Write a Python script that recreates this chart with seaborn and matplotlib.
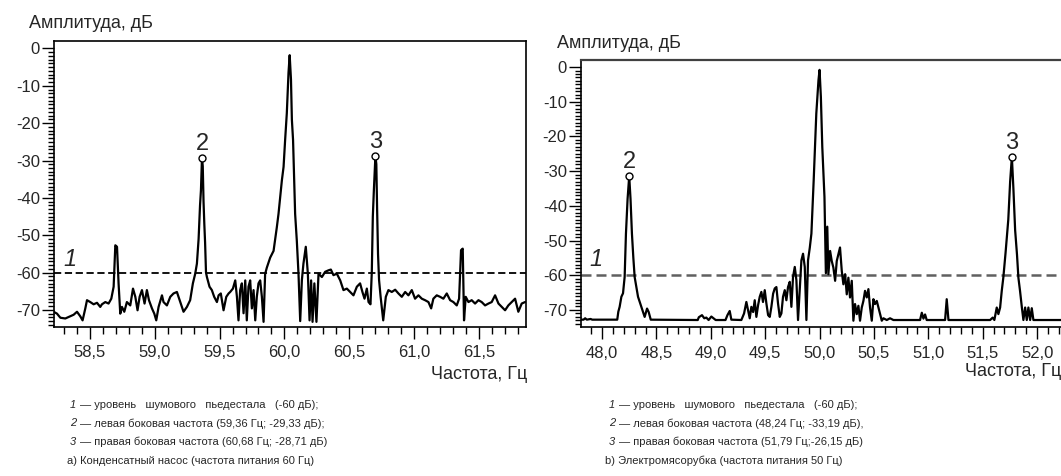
import matplotlib
matplotlib.use("Agg")
import matplotlib.pyplot as plt
import seaborn as sns
import pandas as pd
from matplotlib import font_manager

# ---------------- data ----------------
# panel a) condensate pump, supply 60 Hz
freq_a = [58.212, 58.223, 58.249, 58.275, 58.313, 58.352, 58.377, 58.403, 58.428, 58.446,
          58.467, 58.480, 58.505, 58.531, 58.557, 58.582, 58.595, 58.621, 58.646, 58.667,
          58.685, 58.698, 58.711, 58.723, 58.736, 58.749, 58.767, 58.787, 58.813, 58.834,
          58.852, 58.869, 58.885, 58.903, 58.923, 58.941, 58.957, 58.980, 58.998, 59.013,
          59.031, 59.057, 59.069, 59.095, 59.121, 59.146, 59.172, 59.198, 59.223, 59.249,
          59.274, 59.295, 59.313, 59.326, 59.339, 59.350, 59.357, 59.365, 59.371, 59.377,
          59.383, 59.389, 59.396, 59.403, 59.423, 59.441, 59.459, 59.480, 59.493, 59.510,
          59.531, 59.552, 59.570, 59.582, 59.603, 59.621, 59.634, 59.646, 59.659, 59.672,
          59.685, 59.698, 59.710, 59.723, 59.736, 59.749, 59.762, 59.775, 59.787, 59.800,
          59.813, 59.826, 59.839, 59.851, 59.864, 59.890, 59.916, 59.941, 59.954, 59.967,
          59.980, 59.993, 60.005, 60.018, 60.031, 60.040, 60.050, 60.057, 60.066, 60.075,
          60.082, 60.095, 60.108, 60.121, 60.134, 60.146, 60.164, 60.180, 60.193, 60.205,
          60.216, 60.230, 60.246, 60.262, 60.288, 60.313, 60.339, 60.357, 60.377, 60.403,
          60.429, 60.454, 60.480, 60.505, 60.531, 60.557, 60.582, 60.600, 60.616, 60.634,
          60.647, 60.662, 60.672, 60.680, 60.688, 60.700, 60.707, 60.713, 60.720, 60.728,
          60.740, 60.760, 60.780, 60.800, 60.826, 60.852, 60.877, 60.903, 60.929, 60.954,
          60.980, 61.005, 61.031, 61.057, 61.082, 61.108, 61.129, 61.146, 61.172, 61.198,
          61.223, 61.249, 61.275, 61.300, 61.326, 61.344, 61.359, 61.372, 61.382, 61.395,
          61.416, 61.441, 61.467, 61.493, 61.518, 61.544, 61.570, 61.595, 61.621, 61.647,
          61.672, 61.698, 61.723, 61.749, 61.775, 61.800, 61.826, 61.852]
amp_a = [-71.0, -70.5, -71.0, -72.1, -72.3, -71.7, -71.3, -70.5, -71.7, -72.8,
         -69.6, -67.4, -67.9, -68.5, -68.1, -69.2, -68.5, -67.9, -68.3, -67.0,
         -63.8, -52.7, -53.1, -62.9, -71.0, -69.2, -70.5, -67.9, -68.8, -64.3,
         -66.5, -70.1, -66.5, -64.7, -68.3, -64.7, -67.4, -69.6, -71.0, -72.8,
         -69.2, -66.1, -67.9, -68.8, -66.5, -65.6, -65.2, -67.9, -70.5, -69.2,
         -67.4, -62.9, -60.3, -57.6, -51.0, -42.0, -38.0, -29.3, -31.5, -41.0,
         -47.0, -52.0, -60.0, -61.2, -63.8, -64.7, -66.5, -67.9, -66.1, -65.6,
         -70.1, -66.5, -65.6, -65.2, -64.3, -62.1, -66.5, -72.8, -64.7, -62.9,
         -70.9, -62.1, -72.8, -63.8, -62.1, -69.6, -64.7, -72.8, -66.5, -62.9,
         -62.1, -66.5, -73.2, -60.4, -58.7, -56.0, -54.2, -47.9, -44.3, -39.8,
         -35.3, -31.7, -24.5, -17.3, -6.5, -1.8, -8.3, -19.1, -24.5, -35.3,
         -44.3, -51.5, -60.4, -73.0, -62.0, -57.6, -53.1, -60.3, -72.8, -62.1,
         -73.2, -62.9, -73.2, -60.3, -61.2, -59.8, -59.4, -59.2, -60.7, -60.3,
         -62.1, -64.7, -64.3, -65.2, -66.1, -63.8, -62.9, -65.2, -67.0, -64.3,
         -67.9, -68.5, -60.0, -45.0, -38.0, -28.7, -31.0, -43.0, -55.0, -62.0,
         -66.5, -72.8, -66.5, -64.7, -65.2, -64.6, -65.6, -66.5, -65.2, -66.1,
         -64.7, -67.0, -66.1, -67.0, -67.4, -67.9, -69.6, -67.0, -66.1, -66.5,
         -67.0, -65.6, -67.4, -67.9, -68.8, -67.0, -54.0, -53.6, -72.8, -66.5,
         -67.9, -67.4, -68.3, -67.4, -67.9, -68.8, -68.3, -67.9, -66.1, -68.3,
         -69.2, -70.1, -68.8, -67.9, -67.0, -70.5, -68.3, -67.9]

# panel b) meat grinder, supply 50 Hz
freq_b = [47.800, 47.830, 47.845, 47.860, 47.895, 47.910, 48.000, 48.140, 48.150, 48.162,
          48.178, 48.193, 48.208, 48.220, 48.235, 48.250, 48.262, 48.275, 48.288, 48.300,
          48.316, 48.331, 48.362, 48.392, 48.414, 48.429, 48.448, 48.880, 48.890, 48.919,
          48.940, 48.959, 48.980, 49.005, 49.025, 49.045, 49.135, 49.153, 49.174, 49.189,
          49.281, 49.306, 49.327, 49.343, 49.358, 49.373, 49.389, 49.404, 49.419, 49.435,
          49.450, 49.465, 49.480, 49.496, 49.511, 49.527, 49.542, 49.557, 49.573, 49.588,
          49.603, 49.618, 49.634, 49.649, 49.664, 49.680, 49.695, 49.710, 49.726, 49.741,
          49.756, 49.772, 49.787, 49.802, 49.818, 49.833, 49.848, 49.864, 49.879, 49.894,
          49.910, 49.925, 49.946, 49.970, 49.990, 50.000, 50.012, 50.025, 50.045, 50.058,
          50.071, 50.081, 50.097, 50.112, 50.127, 50.143, 50.158, 50.173, 50.188, 50.204,
          50.219, 50.235, 50.250, 50.265, 50.280, 50.296, 50.311, 50.326, 50.342, 50.357,
          50.372, 50.388, 50.403, 50.418, 50.434, 50.449, 50.464, 50.480, 50.495, 50.510,
          50.526, 50.541, 50.556, 50.572, 50.587, 50.618, 50.648, 50.679, 50.924, 50.940,
          50.955, 50.970, 50.985, 51.154, 51.169, 51.185, 51.568, 51.592, 51.607, 51.629,
          51.644, 51.660, 51.675, 51.690, 51.710, 51.735, 51.752, 51.768, 51.782, 51.798,
          51.815, 51.828, 51.843, 51.860, 51.874, 51.890, 51.905, 51.920, 51.936, 51.951,
          51.966, 52.250]
amp_b = [-72.8, -72.8, -72.4, -72.8, -72.6, -72.8, -72.8, -72.8, -70.5, -69.1,
         -66.2, -65.2, -60.5, -48.0, -38.0, -31.4, -38.0, -48.0, -55.0, -60.5,
         -63.4, -66.2, -69.1, -72.0, -69.6, -70.6, -72.8, -72.9, -72.1, -71.5,
         -72.4, -72.2, -72.9, -71.9, -72.4, -72.9, -72.9, -71.5, -70.3, -72.8,
         -72.9, -71.0, -67.7, -70.1, -72.4, -69.1, -70.6, -67.2, -72.0, -68.6,
         -66.2, -64.8, -67.7, -64.3, -68.1, -71.5, -72.0, -69.1, -65.3, -63.8,
         -63.4, -68.1, -72.0, -71.0, -66.2, -64.3, -67.2, -63.4, -61.9, -69.1,
         -60.5, -57.6, -61.4, -72.9, -64.3, -55.7, -53.8, -57.6, -72.9, -55.7,
         -52.1, -48.0, -32.6, -13.4, -3.8, -0.8, -8.6, -23.0, -37.4, -59.4,
         -46.0, -59.7, -53.0, -55.9, -57.8, -61.6, -55.9, -54.0, -52.0, -58.7,
         -62.6, -59.7, -65.5, -60.7, -66.4, -61.6, -73.1, -68.3, -71.2, -68.8,
         -73.1, -69.3, -67.4, -64.5, -66.4, -64.0, -69.3, -73.1, -66.9, -68.3,
         -67.4, -69.3, -71.2, -73.1, -72.4, -72.9, -72.4, -72.9, -72.9, -70.8,
         -72.5, -71.3, -72.9, -72.9, -66.9, -72.9, -72.9, -72.2, -72.9, -69.3,
         -71.2, -69.3, -64.5, -60.5, -53.5, -44.0, -33.0, -25.9, -35.0, -47.0,
         -54.0, -60.7, -64.5, -69.3, -72.9, -69.3, -72.9, -69.3, -72.9, -69.5,
         -72.9, -72.9]

# marked side-band peaks
peaks_a_freq = [59.365, 60.700]
peaks_a_amp = [-29.3, -28.7]
peaks_b_freq = [48.250, 51.768]
peaks_b_amp = [-31.4, -25.9]
peak_labels = ["2", "3"]
noise_level = -60

yticks = [0, -10, -20, -30, -40, -50, -60, -70]
yticklabels = ["0", "-10", "-20", "-30", "-40", "-50", "-60", "-70"]
xticks_a = [58.5, 59.0, 59.5, 60.0, 60.5, 61.0, 61.5]
xticklabels_a = ["58,5", "59,0", "59,5", "60,0", "60,5", "61,0", "61,5"]
xticks_b = [48.0, 48.5, 49.0, 49.5, 50.0, 50.5, 51.0, 51.5, 52.0]
xticklabels_b = ["48,0", "48,5", "49,0", "49,5", "50,0", "50,5", "51,0", "51,5", "52,0"]

notes_a = ["уровень   шумового   пьедестала   (-60 дБ);",
           "левая боковая частота (59,36 Гц; -29,33 дБ);",
           "правая боковая частота (60,68 Гц; -28,71 дБ)"]
caption_a = "а) Конденсатный насос (частота питания 60 Гц)"
notes_b = ["уровень   шумового   пьедестала   (-60 дБ);",
           "левая боковая частота (48,24 Гц; -33,19 дБ),",
           "правая боковая частота (51,79 Гц;-26,15 дБ)"]
caption_b = "b) Электромясорубка (частота питания 50 Гц)"
note_numbers = ["1", "2", "3"]

# ---------------- style ----------------
sns.set_style("ticks")
plt.rcParams["font.family"] = ["Liberation Sans", "DejaVu Sans"]
plt.rcParams["axes.unicode_minus"] = False

installed = {f.name for f in font_manager.fontManager.ttflist}
if "Liberation Sans Narrow" in installed:
    note_family = ["Liberation Sans Narrow", "DejaVu Sans"]
    note_size = 9.5
else:
    note_family = ["Liberation Sans", "DejaVu Sans"]
    note_size = 8.0

W, H = 1061, 476
fig = plt.figure(figsize=(W / 100, H / 100), dpi=100)

def px_box(x0, x1, ytop, ybot):
    return [x0 / W, 1 - ybot / H, (x1 - x0) / W, (ybot - ytop) / H]

ax_a = fig.add_axes(px_box(54, 526, 41, 326.7))
ax_b = fig.add_axes(px_box(580.7, 1064.3, 59.8, 327.3))

df_a = pd.DataFrame({"freq": freq_a, "amp": amp_a})
df_b = pd.DataFrame({"freq": freq_b, "amp": amp_b})

panels = [
    (ax_a, df_a, (58.226, 61.859), (-74.5, 2.0), xticks_a, xticklabels_a,
     peaks_a_freq, peaks_a_amp, (58.352, -56.6), "black", 1.3),
    (ax_b, df_b, (47.804, 52.25), (-75.0, 2.1), xticks_b, xticklabels_b,
     peaks_b_freq, peaks_b_amp, (47.944, -55.6), "#606060", 1.8),
]

for (ax, df, xlim, ylim, xt, xtl, pf, pa, one_pos, dcol, dlw) in panels:
    sns.lineplot(data=df, x="freq", y="amp", ax=ax, color="black", lw=1.6,
                 estimator=None, sort=False)
    ax.axhline(noise_level, color=dcol, lw=dlw, ls=(0, (4, 2)), zorder=1)
    ax.plot(pf, pa, "o", ms=5, mfc="white", mec="black", mew=1.0, zorder=5)
    for f, a, lab in zip(pf, pa, peak_labels):
        ax.annotate(lab, (f, a), xytext=(0, 5.5), textcoords="offset points",
                    ha="center", va="baseline", fontsize=17)
    ax.text(one_pos[0], one_pos[1], note_numbers[0], fontsize=17, style="italic",
            ha="center", va="center")
    ax.set_xlim(*xlim)
    ax.set_ylim(*ylim)
    ax.set_xticks(xt)
    ax.set_xticklabels(xtl)
    ax.set_xticks([v / 10 for v in range(int(xlim[0] * 10) + 1, int(xlim[1] * 10) + 1)
                   if v % 5 != 0], minor=True)
    ax.set_yticks(yticks)
    ax.set_yticklabels(yticklabels)
    ax.set_yticks([v for v in range(-74, 0) if v % 10 != 0], minor=True)
    ax.tick_params(axis="x", which="major", direction="out", length=8.5, width=1.0,
                   labelsize=12, pad=5, color="black")
    ax.tick_params(axis="x", which="minor", direction="out", length=5, width=1.0,
                   color="black")
    ax.tick_params(axis="y", which="major", direction="out", length=9, width=1.0,
                   labelsize=12, pad=1, color="black")
    ax.tick_params(axis="y", which="minor", direction="out", length=4, width=1.0,
                   color="black")
    ax.set_xlabel("Частота, Гц", fontsize=13)
    ax.set_ylabel("Амплитуда, дБ", fontsize=13, rotation=0, ha="left", va="center")
    for s in ax.spines.values():
        s.set_color("black")
        s.set_linewidth(1.2)
    ax.set_facecolor("white")

ax_a.xaxis.set_label_coords(1.002, -0.168)
ax_a.xaxis.label.set_ha("right")
ax_a.xaxis.label.set_va("center")
ax_a.yaxis.set_label_coords(-0.053, 1.063)
ax_b.xaxis.set_label_coords(0.993, -0.166)
ax_b.xaxis.label.set_ha("right")
ax_b.xaxis.label.set_va("center")
ax_b.yaxis.set_label_coords(-0.049, 1.061)
ax_b.spines["top"].set_color("#404040")
ax_b.spines["top"].set_linewidth(1.6)

# notes below each panel
line_y = [405, 423.5, 442, 461]
for x_num, x_txt, notes, caption, x_cap in [(70, 80, notes_a, caption_a, 67),
                                            (609, 619, notes_b, caption_b, 605)]:
    for i, (num, txt) in enumerate(zip(note_numbers, notes)):
        fig.text(x_num / W, 1 - line_y[i] / H, num, style="italic", family=note_family,
                 fontsize=note_size, ha="left", va="center")
        fig.text(x_txt / W, 1 - line_y[i] / H, "— " + txt, family=note_family,
                 fontsize=note_size, ha="left", va="center")
    fig.text(x_cap / W, 1 - line_y[3] / H, caption, family=note_family,
             fontsize=note_size, ha="left", va="center")

fig.savefig("out.png", dpi=100, facecolor="white")
